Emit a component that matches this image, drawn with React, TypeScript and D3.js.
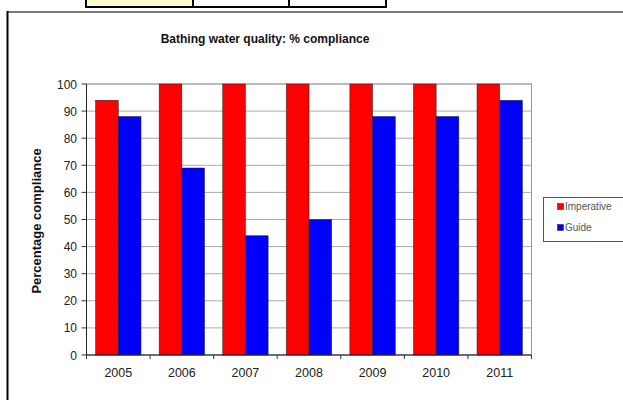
import React from "react";
import * as d3 from "d3";

const years = ["2005", "2006", "2007", "2008", "2009", "2010", "2011"];
const imperative = [94, 100, 100, 100, 100, 100, 100];
const guide = [88, 69, 44, 50, 88, 88, 94];
const seriesNames = ["Imperative", "Guide"];
const seriesColors = ["#FF0000", "#0000FF"];
const yTicks = [0, 10, 20, 30, 40, 50, 60, 70, 80, 90, 100];

export default function App() {
  const W = 623, H = 400;
  const left = 86.5, right = 531.5, top = 84, bottom = 355;
  const x = d3.scaleBand<string>().domain(years).range([left, right]).paddingInner(0).paddingOuter(0);
  const inner = d3.scaleBand<string>().domain(seriesNames).range([0, x.bandwidth()]).paddingInner(0).paddingOuter(0.4);
  const y = d3.scaleLinear().domain([0, 100]).range([bottom, top]);
  const series = [imperative, guide];
  const font = "Arial, 'Liberation Sans', sans-serif";

  return (
    <svg width={W} height={H} style={{ position: "absolute", left: 0, top: 0, background: "#fff" }} fontFamily={font}>
      {/* top table fragment */}
      <rect x={86} y={-10} width={107} height={17} fill="#FFFFCC" />
      <rect x={86} y={-10} width={300} height={17} fill="none" stroke="#000" strokeWidth={2} />
      <line x1={193} y1={-10} x2={193} y2={7} stroke="#000" strokeWidth={2} />
      <line x1={289} y1={-10} x2={289} y2={7} stroke="#000" strokeWidth={2} />

      {/* chart frame */}
      <line x1={7} y1={12} x2={W} y2={12} stroke="#777" strokeWidth={2} />
      <line x1={7.5} y1={11} x2={7.5} y2={H} stroke="#000" strokeWidth={2} />

      <text x={265} y={43} textAnchor="middle" fontSize={12} fontWeight="bold" fill="#111">
        Bathing water quality: % compliance
      </text>

      {/* plot area */}
      <rect x={left} y={top} width={right - left} height={bottom - top} fill="#fff" stroke="#999" strokeWidth={1} />
      {yTicks.map((t) => (
        <g key={t}>
          <line x1={left} x2={right} y1={y(t)} y2={y(t)} stroke="#aaa" strokeWidth={1} />
          <line x1={left - 5} x2={left} y1={y(t)} y2={y(t)} stroke="#333" strokeWidth={1} />
          <text x={77} y={y(t) + 4.5} textAnchor="end" fontSize={12} fill="#222">{t}</text>
        </g>
      ))}

      {years.map((yr, i) => (
        <g key={yr}>
          {series.map((s, j) => (
            <rect
              key={j}
              x={(x(yr) as number) + (inner(seriesNames[j]) as number)}
              y={y(s[i])}
              width={inner.bandwidth()}
              height={y(0) - y(s[i])}
              fill={seriesColors[j]}
              stroke="#222"
              strokeWidth={0.5}
            />
          ))}
          <line x1={x(yr) as number} x2={x(yr) as number} y1={bottom} y2={bottom + 4} stroke="#333" />
          <text x={(x(yr) as number) + x.bandwidth() / 2} y={377} textAnchor="middle" fontSize={12.5} fill="#222">{yr}</text>
        </g>
      ))}
      <line x1={right} x2={right} y1={bottom} y2={bottom + 4} stroke="#333" />
      <line x1={left} x2={right} y1={bottom} y2={bottom} stroke="#222" strokeWidth={1.2} />
      <line x1={left} x2={left} y1={top} y2={bottom} stroke="#222" strokeWidth={1} />

      <text transform={`translate(41, 221) rotate(-90)`} textAnchor="middle" fontSize={13} fontWeight="bold" fill="#111">
        Percentage compliance
      </text>

      {/* legend */}
      <rect x={543.5} y={197.5} width={90} height={44} fill="#fff" stroke="#555" strokeWidth={1} />
      {seriesNames.map((n, j) => (
        <g key={n}>
          <rect x={557.5} y={203.5 + j * 21} width={6} height={6} fill={seriesColors[j]} stroke="#222" strokeWidth={0.5} />
          <text x={565} y={210 + j * 21} fontSize={10} fill="#555">{n}</text>
        </g>
      ))}
    </svg>
  );
}
